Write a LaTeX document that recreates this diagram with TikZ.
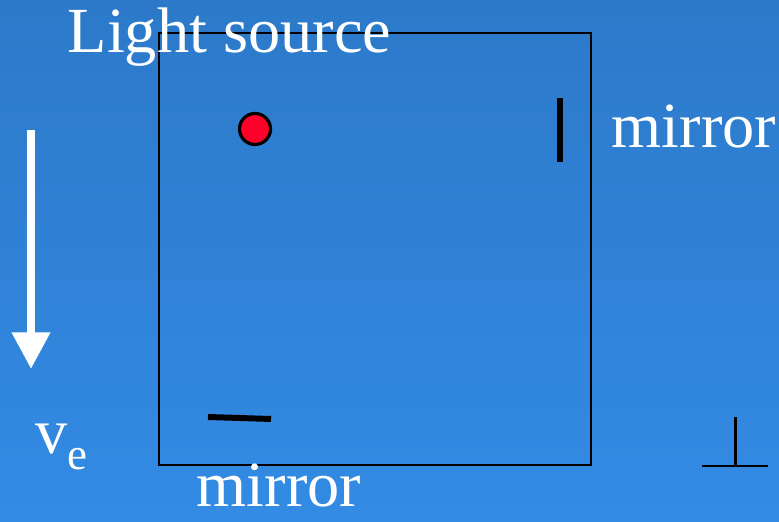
\documentclass[tikz,border=0pt]{standalone}
\usepackage{fontspec}
\setmainfont{Liberation Serif}
\definecolor{bgtop}{RGB}{44,121,201}
\definecolor{bgbottom}{RGB}{51,139,228}
\definecolor{lamp}{RGB}{255,0,42}
\usetikzlibrary{arrows.meta}

\begin{document}
\begin{tikzpicture}[
  x=0.01cm, y=-0.01cm,
  lbl/.style={text=white, inner sep=0pt, anchor=base west, font=\fontsize{18.3}{20}\selectfont},
  mirrorbar/.style={line width=1.7pt},
  velo/.style={white, line width=2.3pt, -{Triangle[width=10.4pt, length=10.4pt]}}
]
  \shade[top color=bgtop, bottom color=bgbottom] (0,0) rectangle (779,522);
  \useasboundingbox (0,0) rectangle (779,522);
  \draw[line width=0.7pt] (159,33) rectangle (591,465);
  \node[circle, draw, line width=0.9pt, fill=lamp, minimum size=0.31cm, inner sep=0pt] (source) at (255,129) {};
  \draw[mirrorbar] (560,98) -- (560,162);
  \draw[mirrorbar] (208,417) -- (271,419);
  \node[lbl] (lighttxt) at (67,53) {Light source};
  \node[lbl] (mirrortop) at (611,148) {mirror};
  \node[lbl] (mirrorbot) at (196,507) {mirror};
  \node[lbl] (vtxt) at (35,454) {v\raisebox{-4.3pt}{\fontsize{12.8}{14}\selectfont e}};
  \coordinate (vstart) at (31,130);
  \coordinate (vend) at (31,369);
  \draw[velo] (vstart) -- (vend);
  % perpendicular mark
  \coordinate (perpl) at (702,466);
  \coordinate (perpr) at (768,466);
  \coordinate (perpm) at (735,466);
  \coordinate (perpt) at (735,417);
  \draw[line width=0.85pt] (perpl) -- (perpr);
  \draw[line width=0.85pt] (perpm) -- (perpt);
\end{tikzpicture}
\end{document}
